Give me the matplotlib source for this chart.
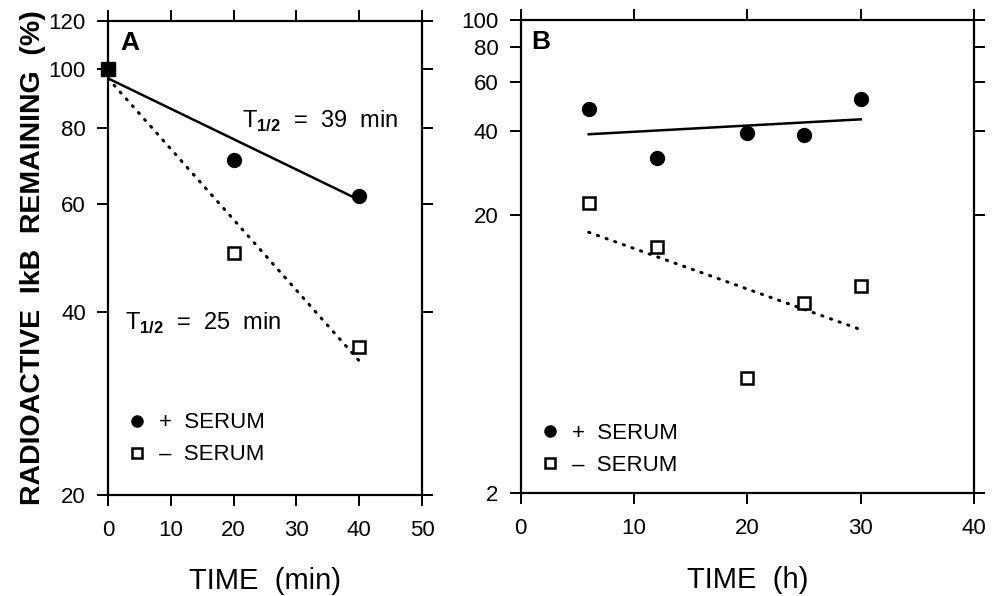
import matplotlib
matplotlib.use("Agg")
import matplotlib.pyplot as plt
from matplotlib.ticker import FixedLocator, NullLocator, FixedFormatter

plt.rcParams['font.family'] = ['Liberation Sans', 'DejaVu Sans']
plt.rcParams['mathtext.fontset'] = 'custom'
plt.rcParams['mathtext.rm'] = 'Liberation Sans'
plt.rcParams['mathtext.bf'] = 'Liberation Sans:bold'

# --- Panel A data (min) ---
a_time = [0, 20, 40]
a_plus = [100, 71, 62]
a_minus = [100, 50, 35]
a_fit_t = [0, 40]
a_fit_plus = [96.6, 61]
a_fit_minus = [96.6, 33.2]
a_yticks = [20, 40, 60, 80, 100, 120]
a_xticks = [0, 10, 20, 30, 40, 50]

# --- Panel B data (h) ---
b_time = [6, 12, 20, 25, 30]
b_plus = [48, 32, 39.2, 38.7, 52]
b_minus = [22, 15.3, 5.2, 9.65, 11.1]
b_fit_t = [6, 30]
b_fit_plus = [38.9, 44.0]
b_fit_minus = [17.3, 7.74]
b_yticks = [2, 20, 40, 60, 80, 100]
b_xticks = [0, 10, 20, 30, 40]

fig = plt.figure(figsize=(9.93, 5.96), dpi=100)
axA = fig.add_axes([0.1088, 0.1695, 0.3162, 0.7953])
axB = fig.add_axes([0.5244, 0.1723, 0.4565, 0.7941])

dotted = (0, (0.4, 2.6))


def style_axis(ax, xticks, yticks, ylim):
    ax.set_yscale('log')
    ax.set_xlim(xticks[0], xticks[-1])
    ax.set_ylim(*ylim)
    ax.xaxis.set_major_locator(FixedLocator(xticks))
    ax.yaxis.set_major_locator(FixedLocator(yticks))
    ax.yaxis.set_major_formatter(FixedFormatter([str(v) for v in yticks]))
    ax.yaxis.set_minor_locator(NullLocator())
    ax.xaxis.set_minor_locator(NullLocator())
    for s in ax.spines.values():
        s.set_linewidth(1.6)
    ax.tick_params(which='major', direction='out', length=8, width=1.4,
                   top=True, right=True, labelsize=16)
    ax.tick_params(axis='y', pad=8)
    ax.tick_params(axis='x', pad=10)


legend_kw = dict(loc='lower left', frameon=False, fontsize=16, handlelength=0.8,
                 handletextpad=0.6, markerscale=0.8, labelspacing=0.5)

# Panel A
axA.plot(a_fit_t, a_fit_plus, 'k-', lw=1.8)
axA.plot(a_fit_t, a_fit_minus, color='k', ls=dotted, lw=2.2, dash_capstyle='round')
axA.plot(a_time, a_plus, 'o', color='k', ms=10, label='+  SERUM', clip_on=False)
axA.plot(a_time, a_minus, 's', mfc='white', mec='k', mew=1.8, ms=9, label='\u2013  SERUM', clip_on=False)
axA.plot(a_time[:1], a_plus[:1], 's', color='k', ms=10, clip_on=False)
style_axis(axA, a_xticks, a_yticks, (20, 120))
axA.text(21.3, 80, r'T$_{\mathbf{1/2}}$  =  39  min', fontsize=17, va='baseline')
axA.text(2.7, 37.3, r'T$_{\mathbf{1/2}}$  =  25  min', fontsize=17, va='baseline')
axA.text(0.038, 0.939, 'A', transform=axA.transAxes, fontsize=19, fontweight='bold', va='baseline')
axA.set_xlabel('TIME  (min)', fontsize=21, labelpad=19)
axA.set_ylabel('RADIOACTIVE  IkB  REMAINING  (%)', fontsize=20.5, fontweight='bold', labelpad=2)
axA.legend(bbox_to_anchor=(0.0, 0.02), **legend_kw)

# Panel B
axB.plot(b_fit_t, b_fit_plus, 'k-', lw=1.8)
axB.plot(b_fit_t, b_fit_minus, color='k', ls=dotted, lw=2.2, dash_capstyle='round')
axB.plot(b_time, b_plus, 'o', color='k', ms=10, label='+  SERUM')
axB.plot(b_time, b_minus, 's', mfc='white', mec='k', mew=1.8, ms=9, label='\u2013  SERUM')
style_axis(axB, b_xticks, b_yticks, (2, 100))
axB.text(0.024, 0.938, 'B', transform=axB.transAxes, fontsize=19, fontweight='bold', va='baseline')
axB.set_xlabel('TIME  (h)', fontsize=21, labelpad=19)
axB.legend(bbox_to_anchor=(0.0, -0.005), **legend_kw)

fig.savefig('out.png', dpi=100)
